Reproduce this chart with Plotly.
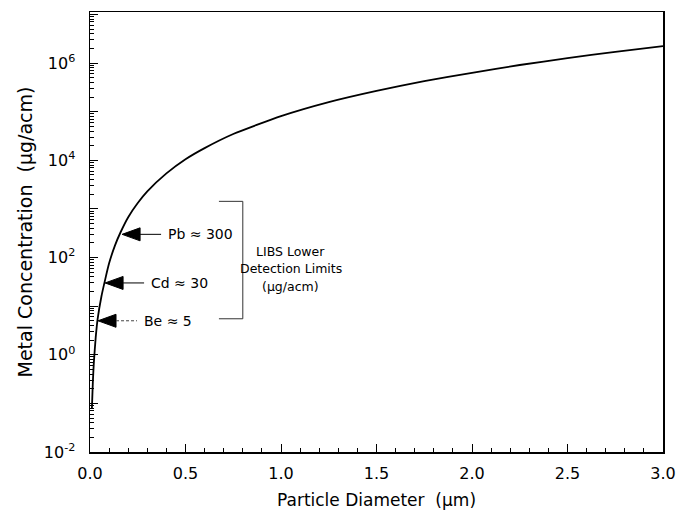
import math
import plotly.graph_objects as go

# Curve: metal concentration vs particle diameter
diameter_um = [0.01, 0.015, 0.02, 0.03, 0.04, 0.06, 0.08, 0.10, 0.13, 0.16, 0.20, 0.25,
               0.30, 0.40, 0.50, 0.60, 0.75, 1.0, 1.25, 1.5, 1.75, 2.0, 2.25, 2.5, 2.75, 3.0]
concentration = [0.079, 0.28, 0.68, 2.3, 5.5, 16, 36, 76, 174, 331, 676, 1320,
                 2290, 5370, 10500, 17800, 34700, 81300, 158000, 269000, 427000, 631000,
                 912000, 1260000, 1700000, 2240000]

# Detection-limit labels
metals = ["Pb", "Cd", "Be"]
limits = [300, 30, 5]
limit_diam = [0.168, 0.079, 0.042]
limit_dash = ["solid", "solid", "dash"]

# Bracket around detection limits
bracket_x = [0.675, 0.80]
bracket_y = [5.5, 1430]
bracket_text = ["LIBS Lower", "Detection Limits", "(\u03bcg/acm)"]
bracket_text_y = [10 ** 2.12, 10 ** 1.77, 10 ** 1.40]

# Axis ticks
x_major = [0.0, 0.5, 1.0, 1.5, 2.0, 2.5, 3.0]
x_major_text = ["0.0", "0.5", "1.0", "1.5", "2.0", "2.5", "3.0"]
x_minor = [round(0.1 * i, 1) for i in range(31)]
y_decades = [-2, -1, 0, 1, 2, 3, 4, 5, 6, 7]
y_labelled = [-2, 0, 2, 4, 6]

FONT = "DejaVu Sans"
NB = "\u00a0"

y_major = [10.0 ** e for e in y_decades]
y_major_text = [f"10<sup>{e}</sup>" if e in y_labelled else "" for e in y_decades]
y_minor = [m * 10.0 ** e for e in y_decades[:-1] for m in range(2, 10)]

fig = go.Figure()
fig.add_trace(go.Scatter(
    x=diameter_um, y=concentration, mode="lines",
    line=dict(color="black", width=1.8, shape="spline", smoothing=0.5),
    hoverinfo="skip", showlegend=False,
))

shapes = []
annotations = []
for name, val, d, dash in zip(metals, limits, limit_diam, limit_dash):
    # arrow head (pixel-sized, anchored at the curve point)
    shapes.append(dict(
        type="path", xref="x", yref="y", xsizemode="pixel", ysizemode="pixel",
        xanchor=d, yanchor=val, path="M0,0 L18,6.5 L18,-6.5 Z",
        fillcolor="black", line=dict(color="black", width=1),
    ))
    # tail
    shapes.append(dict(
        type="line", xref="x", yref="y", xsizemode="pixel", ysizemode="pixel",
        xanchor=d, yanchor=val, x0=18, x1=39, y0=0, y1=0,
        line=dict(color="black" if dash == "solid" else "#444", width=1,
                  dash="3px,2px" if dash == "dash" else "solid"),
    ))
    annotations.append(dict(
        x=d, y=math.log10(val), xref="x", yref="y", xanchor="left", yanchor="middle",
        xshift=44, text=f"{name} \u2248 {val}", showarrow=False,
        font=dict(family=FONT, size=14, color="black"),
    ))

# bracket
shapes.append(dict(type="line", xref="x", yref="y", x0=bracket_x[1], x1=bracket_x[1],
                   y0=bracket_y[0], y1=bracket_y[1], line=dict(color="#333", width=1)))
shapes.append(dict(type="line", xref="x", yref="y", x0=bracket_x[0], x1=bracket_x[1],
                   y0=bracket_y[1], y1=bracket_y[1], line=dict(color="#333", width=1)))
shapes.append(dict(type="line", xref="x", yref="y", x0=bracket_x[0], x1=bracket_x[1],
                   y0=bracket_y[0], y1=bracket_y[0], line=dict(color="#333", width=1)))
for t, ty in zip(bracket_text, bracket_text_y):
    annotations.append(dict(
        x=bracket_x[1], y=math.log10(ty), xref="x", yref="y", xanchor="center",
        yanchor="middle", xshift=48, text=t, showarrow=False,
        font=dict(family=FONT, size=12.5, color="black"),
    ))

fig.update_layout(
    width=679, height=518,
    margin=dict(l=90, r=16, t=12, b=66),
    paper_bgcolor="white", plot_bgcolor="white",
    font=dict(family=FONT, size=16, color="black"),
    shapes=shapes, annotations=annotations,
    showlegend=False,
    xaxis=dict(
        range=[0, 3.0], tickmode="array", tickvals=x_major, ticktext=x_major_text,
        ticks="inside", ticklen=8, tickwidth=1, tickcolor="black",
        minor=dict(tickmode="array", tickvals=x_minor, ticks="inside", ticklen=4,
                   tickwidth=1, tickcolor="black"),
        showline=True, linecolor="black", linewidth=1.5, mirror=True,
        showgrid=False, zeroline=False, automargin=False,
        ticklabelstandoff=6, ticklabeloverflow="allow",
        tickfont=dict(family=FONT, size=16),
        title=dict(text=f"Particle Diameter{NB} (\u03bcm)", font=dict(family=FONT, size=17),
                   standoff=12),
    ),
    yaxis=dict(
        type="log", range=[-2, 7.05], tickmode="array", tickvals=y_major,
        ticktext=y_major_text,
        ticks="inside", ticklen=8, tickwidth=1, tickcolor="black",
        minor=dict(tickmode="array", tickvals=y_minor, ticks="inside", ticklen=4,
                   tickwidth=1, tickcolor="black"),
        showline=True, linecolor="black", linewidth=1.5, mirror=True,
        showgrid=False, zeroline=False, automargin=False,
        ticklabelstandoff=10,
        tickfont=dict(family=FONT, size=16),
        title=dict(text=f"Metal Concentration{NB} (\u03bcg/acm)",
                   font=dict(family=FONT, size=19), standoff=6),
    ),
)

# remove the default 8px page margin so the figure fills the window exactly
fig.write_html(
    "out.html",
    config={"displayModeBar": False, "staticPlot": True},
    post_script="document.body.style.margin='0px';document.body.style.overflow='hidden';",
)
